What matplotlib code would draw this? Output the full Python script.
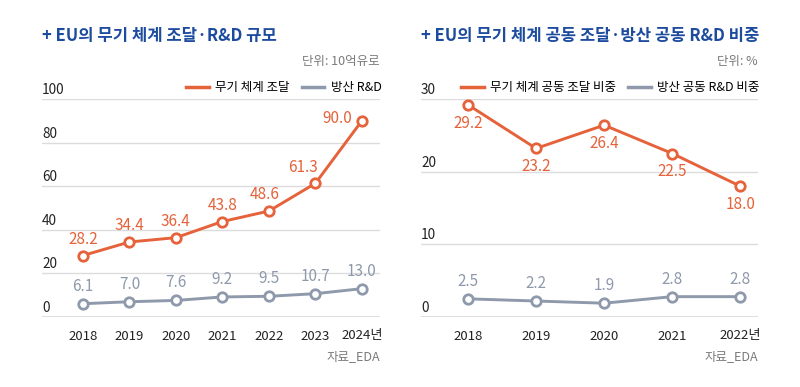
import matplotlib
matplotlib.use("Agg")
import matplotlib.pyplot as plt
from matplotlib.lines import Line2D

plt.rcParams['font.family'] = ['Noto Sans CJK KR', 'DejaVu Sans']

# data
years_l = ['2018', '2019', '2020', '2021', '2022', '2023', '2024년']
arms_l = [28.2, 34.4, 36.4, 43.8, 48.6, 61.3, 90.0]
rnd_l = [6.1, 7.0, 7.6, 9.2, 9.5, 10.7, 13.0]

years_r = ['2018', '2019', '2020', '2021', '2022년']
arms_r = [29.2, 23.2, 26.4, 22.5, 18.0]
rnd_r = [2.5, 2.2, 1.9, 2.8, 2.8]

ORANGE = '#e5623a'
GRAY = '#8e99ab'
BLUE = '#1d4c9e'
TXTGRAY = '#7a7a7a'
GRID = '#dcdcdc'

W, H = 800, 387
fig = plt.figure(figsize=(8, 3.87), dpi=100)


def fx(px):
    return px / W


def fy(py):
    return 1 - py / H


def panel(x0, x1, xs_lbl, s1, s2, ymax, yticks, xlim, title, unit, legend, below_orange, shifts):
    ax = fig.add_axes([fx(x0), fy(317), fx(x1 - x0), fy(99) - fy(317)])
    ax.set_xlim(*xlim)
    ax.set_ylim(0, ymax)
    for s in ax.spines.values():
        s.set_visible(False)
    ax.set_yticks([])
    for t in yticks:
        ax.axhline(t, color=GRID, lw=1.3 if t == 0 else 1.0, zorder=1)
        ax.annotate(str(t), (0, t), xycoords=('axes fraction', 'data'),
                    xytext=(0, 2), textcoords='offset pixels',
                    ha='left', va='bottom', fontsize=9.8, color='#222222')
    xs = list(range(len(xs_lbl)))
    ax.set_xticks(xs)
    ax.set_xticklabels(xs_lbl, fontsize=9.5, color='#222222')
    ax.tick_params(axis='x', length=0, pad=9)

    ax.plot(xs, s1, color=ORANGE, lw=2.1, marker='o', ms=6.8, mfc='white',
            mec=ORANGE, mew=2.0, zorder=3, clip_on=False)
    ax.plot(xs, s2, color=GRAY, lw=2.1, marker='o', ms=6.8, mfc='white',
            mec=GRAY, mew=2.0, zorder=3, clip_on=False)

    for i, v in enumerate(s1):
        if below_orange:
            ax.annotate(f'{v:.1f}', (i, v), xytext=(0, -10), textcoords='offset pixels',
                        ha='center', va='top', fontsize=11, color=ORANGE)
        elif i in shifts:
            dx, dy, ha, va = shifts[i]
            ax.annotate(f'{v:.1f}', (i, v), xytext=(dx, dy), textcoords='offset pixels',
                        ha=ha, va=va, fontsize=11, color=ORANGE)
        else:
            ax.annotate(f'{v:.1f}', (i, v), xytext=(0, 8), textcoords='offset pixels',
                        ha='center', va='bottom', fontsize=11, color=ORANGE)
    for i, v in enumerate(s2):
        ax.annotate(f'{v:.1f}', (i, v), xytext=(0, 9), textcoords='offset pixels',
                    ha='center', va='bottom', fontsize=11, color=GRAY)

    fig.text(fx(x0), fy(36), title, fontsize=12, fontweight='bold', color=BLUE,
             ha='left', va='center')
    fig.text(fx(x1), fy(62), unit, fontsize=9, color=TXTGRAY, ha='right', va='center')
    fig.text(fx(x1), fy(357), '자료_EDA', fontsize=9, color=TXTGRAY, ha='right', va='center')

    handles = [Line2D([], [], color=ORANGE, lw=2.5), Line2D([], [], color=GRAY, lw=2.5)]
    fig.legend(handles, legend, loc='center right', bbox_to_anchor=(fx(x1) + 0.008, fy(88)),
               ncol=2, frameon=False, fontsize=9, handlelength=1.8, handletextpad=0.5,
               columnspacing=1.0, borderaxespad=0)
    return ax


panel(42, 380, years_l, arms_l, rnd_l, 100, [0, 20, 40, 60, 80, 100], (-0.88, 6.39),
      '+ EU의 무기 체계 조달·R&D 규모', '단위: 10억유로', ['무기 체계 조달', '방산 R&D'],
      below_orange=False,
      shifts={4: (-4, 8, 'center', 'bottom'), 5: (-12, 7, 'center', 'bottom'),
              6: (-10, 2, 'right', 'center')})
panel(421, 758, years_r, arms_r, rnd_r, 30, [0, 10, 20, 30], (-0.69, 4.26),
      '+ EU의 무기 체계 공동 조달·방산 공동 R&D 비중', '단위: %',
      ['무기 체계 공동 조달 비중', '방산 공동 R&D 비중'],
      below_orange=True, shifts={})

fig.savefig('out.png', dpi=100)
